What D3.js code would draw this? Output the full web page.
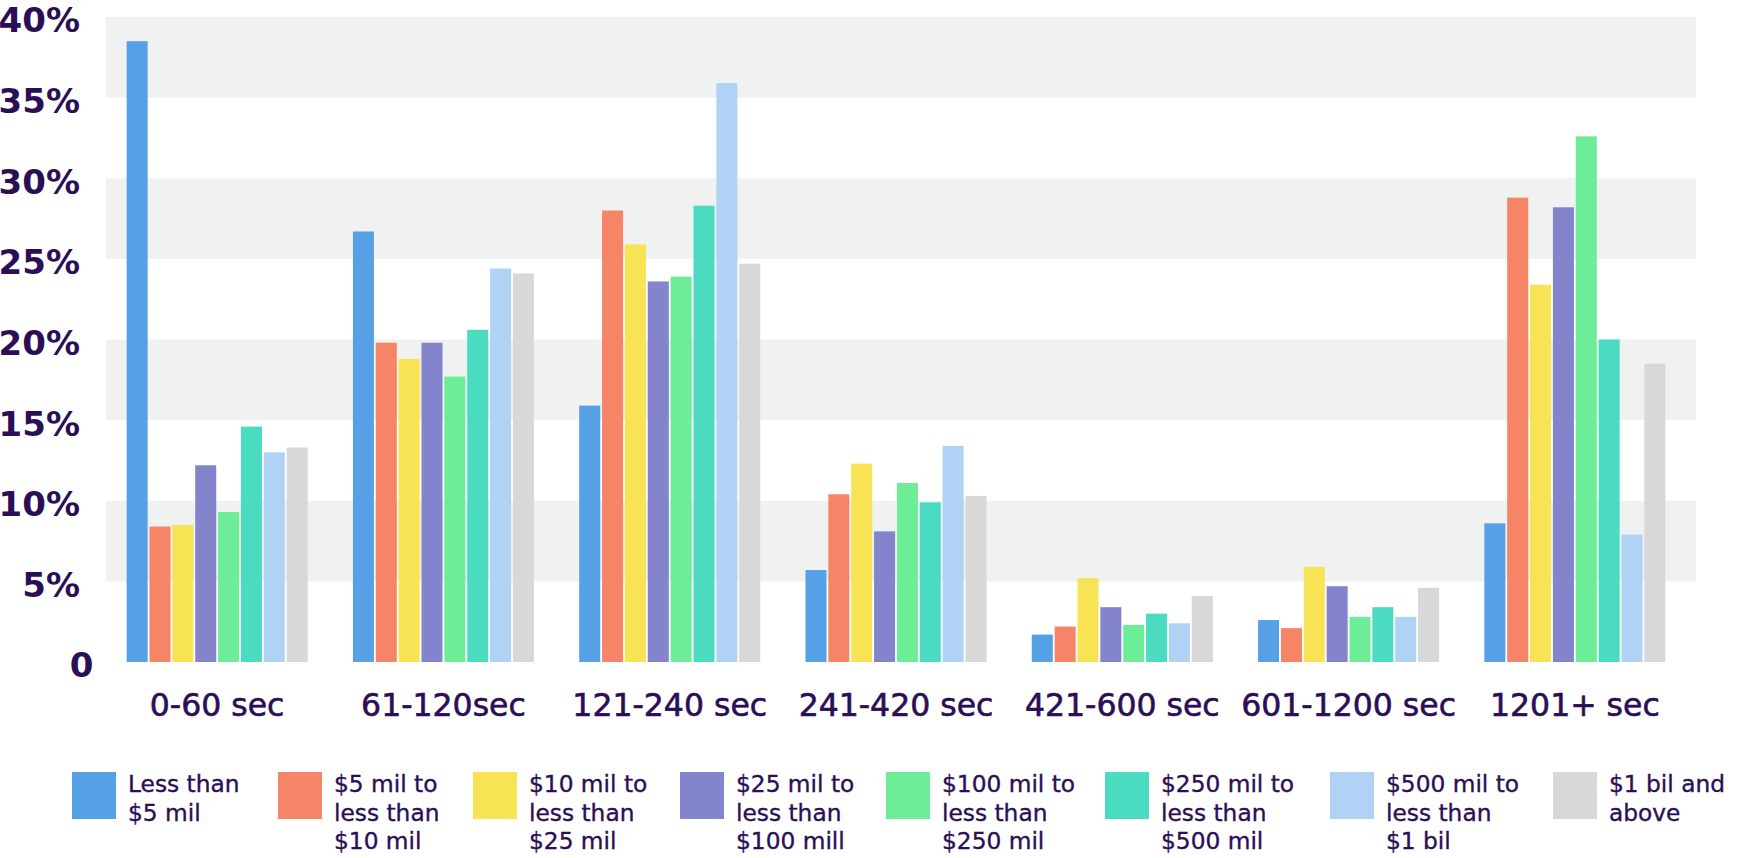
<!DOCTYPE html>
<html>
<head>
<meta charset="utf-8">
<script src="https://cdn.jsdelivr.net/npm/d3@7/dist/d3.min.js"></script>
<style>
  html, body { margin: 0; padding: 0; background: #ffffff; }
  svg { display: block; }
</style>
</head>
<body>
<svg id="chart" width="1738" height="858"></svg>
<script>
// ---------------- DATA ----------------
const categories = ["0-60 sec", "61-120sec", "121-240 sec", "241-420 sec", "421-600 sec", "601-1200 sec", "1201+ sec"];
const seriesNames = [
  "Less than $5 mil",
  "$5 mil to less than $10 mil",
  "$10 mil to less than $25 mil",
  "$25 mil to less than $100 mill",
  "$100 mil to less than $250 mil",
  "$250 mil to less than $500 mil",
  "$500 mil to less than $1 bil",
  "$1 bil and above"
];
const legendLines = [
  ["Less than", "$5 mil"],
  ["$5 mil to", "less than", "$10 mil"],
  ["$10 mil to", "less than", "$25 mil"],
  ["$25 mil to", "less than", "$100 mill"],
  ["$100 mil to", "less than", "$250 mil"],
  ["$250 mil to", "less than", "$500 mil"],
  ["$500 mil to", "less than", "$1 bil"],
  ["$1 bil and", "above"]
];
// values (%) per series, one entry per category
const lessThan5mil     = [38.5, 26.7, 15.9, 5.7, 1.7, 2.6, 8.6];
const mil5to10         = [8.4, 19.8, 28.0, 10.4, 2.2, 2.1, 28.8];
const mil10to25        = [8.5, 18.8, 25.9, 12.3, 5.2, 5.9, 23.4];
const mil25to100       = [12.2, 19.8, 23.6, 8.1, 3.4, 4.7, 28.2];
const mil100to250      = [9.3, 17.7, 23.9, 11.1, 2.3, 2.8, 32.6];
const mil250to500      = [14.6, 20.6, 28.3, 9.9, 3.0, 3.4, 20.0];
const mil500to1bil     = [13.0, 24.4, 35.9, 13.4, 2.4, 2.8, 7.9];
const bil1andAbove     = [13.3, 24.1, 24.7, 10.3, 4.1, 4.6, 18.5];
const seriesValues = [lessThan5mil, mil5to10, mil10to25, mil25to100, mil100to250, mil250to500, mil500to1bil, bil1andAbove];
const yTicks = [0, 5, 10, 15, 20, 25, 30, 35, 40];
const yTickLabels = ["0", "5%", "10%", "15%", "20%", "25%", "30%", "35%", "40%"];

// ---------------- STYLE / LAYOUT ----------------
const colors = ["#56a1e6", "#f68466", "#f7e354", "#8484cd", "#6ded98", "#4bdbc1", "#b0d3f5", "#d8d8d8"];
const textColor = "#2b0e55";
const bandColor = "#f0f2f1";
const W = 1738, H = 858;
const bgLeft = 106, bgRight = 1696;
const xRange = [104, 1688];
const yRange = [662, 17];
const legendLeft = [72, 278, 473, 680, 886, 1105, 1330, 1553];
const legendTop = 772;

const svg = d3.select("#chart");

const x0 = d3.scaleBand().domain(categories).range(xRange).paddingInner(0.2).paddingOuter(0.1);
const x1 = d3.scaleBand().domain(d3.range(seriesNames.length)).range([0, x0.bandwidth()]).paddingInner(0.08);
const y = d3.scaleLinear().domain([0, 40]).range(yRange);

// alternating background bands
const bands = [];
for (let i = 0; i < yTicks.length - 1; i++) {
  if (i % 2 === 1) bands.push([yTicks[i], yTicks[i + 1]]);
}
svg.append("g").selectAll("rect").data(bands).join("rect")
  .attr("x", bgLeft)
  .attr("width", bgRight - bgLeft)
  .attr("y", d => y(d[1]))
  .attr("height", d => y(d[0]) - y(d[1]))
  .attr("fill", bandColor);

// bars
const groups = svg.append("g").selectAll("g").data(categories).join("g")
  .attr("transform", d => `translate(${x0(d)},0)`);
groups.selectAll("rect")
  .data((c, ci) => seriesValues.map((vals, si) => ({ si, v: vals[ci] })))
  .join("rect")
  .attr("x", d => x1(d.si))
  .attr("width", x1.bandwidth())
  .attr("y", d => y(d.v))
  .attr("height", d => y(0) - y(d.v))
  .attr("fill", d => colors[d.si]);

// y axis
const yAxis = svg.append("g")
  .attr("transform", "translate(80,0)")
  .call(d3.axisLeft(y).tickValues(yTicks).tickSize(0).tickPadding(0)
    .tickFormat((d, i) => yTickLabels[i]));
yAxis.select(".domain").remove();
yAxis.selectAll("text")
  .attr("fill", textColor)
  .attr("font-family", "'DejaVu Sans', sans-serif")
  .attr("font-weight", "bold")
  .attr("font-size", 34)
  .attr("dy", "0.44em")
  .attr("x", d => d === 0 ? 13.5 : 0);

// x axis
const xAxis = svg.append("g")
  .attr("transform", `translate(0,${y(0)})`)
  .call(d3.axisBottom(x0).tickSize(0).tickPadding(32));
xAxis.select(".domain").remove();
xAxis.selectAll("text")
  .attr("fill", textColor)
  .attr("stroke", textColor)
  .attr("stroke-width", 0.6)
  .attr("font-family", "'DejaVu Sans', sans-serif")
  .attr("font-size", 31.5);

// legend
const legend = svg.append("g").selectAll("g").data(seriesNames).join("g")
  .attr("transform", (d, i) => `translate(${legendLeft[i]},${legendTop})`);
legend.append("rect")
  .attr("width", 44).attr("height", 47)
  .attr("fill", (d, i) => colors[i]);
legend.append("text")
  .attr("fill", textColor)
  .attr("stroke", textColor)
  .attr("stroke-width", 0.35)
  .attr("font-family", "'DejaVu Sans', sans-serif")
  .attr("font-size", 23.3)
  .selectAll("tspan")
  .data((d, i) => legendLines[i])
  .join("tspan")
  .attr("x", 56)
  .attr("y", (d, j) => 20 + j * 28.7)
  .text(d => d);
</script>
</body>
</html>
